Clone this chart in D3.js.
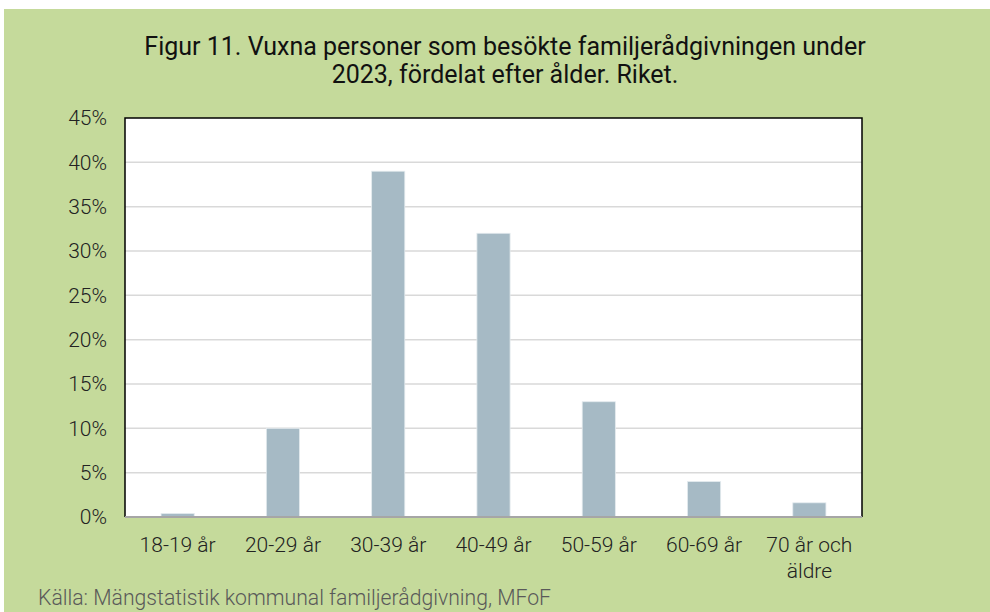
<!DOCTYPE html>
<html>
<head>
<meta charset="utf-8">
<script src="https://cdn.jsdelivr.net/npm/d3@7"></script>
<style>
  body { margin: 0; background: #fff; }
  svg { display: block; font-family: Roboto, 'Noto Sans', sans-serif; }
</style>
</head>
<body>
<div id="chart"></div>
<script>
// data
var categories = ['18-19 år', '20-29 år', '30-39 år', '40-49 år', '50-59 år', '60-69 år', '70 år och äldre']
var values = [0.4, 10, 39, 32, 13, 4, 1.6]
var yTicks = [0, 5, 10, 15, 20, 25, 30, 35, 40, 45]

var width = 990, height = 612
var plotLeft = 125, plotRight = 862, plotTop = 118, plotBottom = 517

var svg = d3.select('#chart').append('svg')
  .attr('width', width)
  .attr('height', height)

// green background
svg.append('rect')
  .attr('x', 4).attr('y', 9)
  .attr('width', width - 4).attr('height', height - 9)
  .attr('fill', '#c5da9b')

// title
svg.append('text')
  .attr('text-anchor', 'middle')
  .attr('font-size', 25)
  .attr('fill', '#111')
  .selectAll('tspan')
  .data(['Figur 11. Vuxna personer som besökte familjerådgivningen under', '2023, fördelat efter ålder. Riket.'])
  .enter().append('tspan')
  .attr('x', 505)
  .attr('y', function(d, i) { return 55 + i * 28 })
  .text(function(d) { return d })

var x = d3.scaleBand().domain(categories).range([plotLeft, plotRight]).paddingInner(0.685).paddingOuter(0.3425)
var y = d3.scaleLinear().domain([0, 45]).range([plotBottom, plotTop])

// plot area
svg.append('rect')
  .attr('x', plotLeft).attr('y', plotTop)
  .attr('width', plotRight - plotLeft).attr('height', plotBottom - plotTop)
  .attr('fill', '#fff')

// gridlines
svg.append('g')
  .selectAll('line')
  .data(yTicks.filter(function(d) { return d > 0 && d < 45 }))
  .enter().append('line')
  .attr('x1', plotLeft).attr('x2', plotRight)
  .attr('y1', function(d) { return y(d) }).attr('y2', function(d) { return y(d) })
  .attr('stroke', '#d9d9d9')
  .attr('stroke-width', 1.5)

// bars
svg.append('g')
  .selectAll('rect')
  .data(values)
  .enter().append('rect')
  .attr('x', function(d, i) { return x(categories[i]) })
  .attr('y', function(d) { return y(d) })
  .attr('width', x.bandwidth())
  .attr('height', function(d) { return plotBottom - y(d) })
  .attr('fill', '#a6bac5')
  .attr('stroke', '#e4ebef')
  .attr('stroke-width', 0.8)

// border: top, left, right black; bottom gray
svg.append('path')
  .attr('d', 'M' + plotLeft + ',' + plotBottom + 'V' + plotTop + 'H' + plotRight + 'V' + plotBottom)
  .attr('fill', 'none')
  .attr('stroke', '#000')
  .attr('stroke-width', 1.5)
svg.append('line')
  .attr('x1', plotLeft).attr('x2', plotRight)
  .attr('y1', plotBottom).attr('y2', plotBottom)
  .attr('stroke', '#a6a6a6')
  .attr('stroke-width', 2)

// y axis
var yAxis = svg.append('g')
  .attr('transform', 'translate(' + plotLeft + ',0)')
  .call(d3.axisLeft(y).tickValues(yTicks).tickFormat(function(d) { return d + '%' }).tickSize(0).tickPadding(18))
yAxis.select('.domain').remove()
yAxis.selectAll('text')
  .attr('font-size', 21)
  .attr('font-weight', 300)
  .attr('font-family', 'Roboto, sans-serif')
  .attr('fill', '#222')

// x axis
var xAxis = svg.append('g')
  .attr('transform', 'translate(0,' + plotBottom + ')')
  .call(d3.axisBottom(x).tickSize(0).tickPadding(0).tickFormat(''))
xAxis.select('.domain').remove()
xAxis.selectAll('.tick').append('text')
  .attr('text-anchor', 'middle')
  .attr('font-size', 21)
  .attr('font-weight', 300)
  .attr('font-family', 'Roboto, sans-serif')
  .attr('fill', '#222')
  .selectAll('tspan')
  .data(function(d) { return d === '70 år och äldre' ? ['70 år och', 'äldre'] : [d] })
  .enter().append('tspan')
  .attr('x', 0)
  .attr('y', function(d, i) { return 35 + i * 26 })
  .text(function(d) { return d })

// source
svg.append('text')
  .attr('x', 38).attr('y', 605)
  .attr('font-size', 21.2)
  .attr('font-weight', 300)
  .attr('fill', '#595959')
  .text('Källa: Mängstatistik kommunal familjerådgivning, MFoF')
</script>
</body>
</html>
